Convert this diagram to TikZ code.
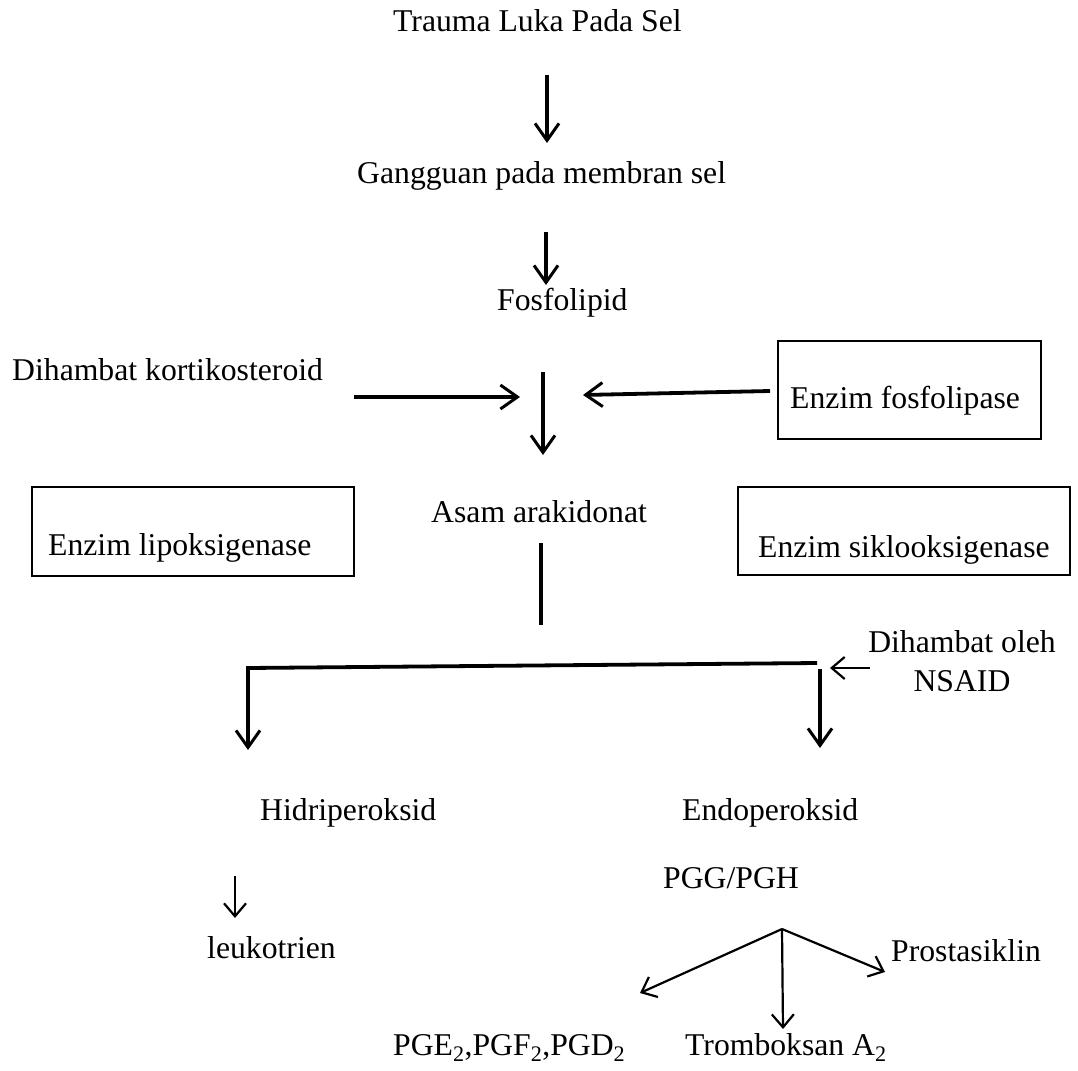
\documentclass[tikz,border=0pt]{standalone}
\usepackage{fontspec}
\setmainfont{Liberation Serif}
\usetikzlibrary{arrows.meta}
\begin{document}
\begin{tikzpicture}[x=1pt,y=-1pt,
  txt/.style={inner sep=0pt, anchor=base west, font=\fontsize{31.7}{40}\selectfont},
  boxr/.style={draw, line width=1.8pt, anchor=north west, inner sep=0pt},
  thick arrow/.style={line width=3.8pt, -{Straight Barb[length=17pt,width=24pt,line width=3pt]}},
  thin arrow/.style={line width=2.2pt, -{Straight Barb[length=13pt,width=22pt,line width=2.2pt]}},
  thickline/.style={line width=3.8pt}]
\useasboundingbox (0,0) rectangle (1078,1070);
% texts
\node[txt] (trauma) at (393,32) {Trauma Luka Pada Sel};
\node[txt] (gangguan) at (357,183) {Gangguan pada membran sel};
\node[txt] (fosfo) at (497,310) {Fosfolipid};
\node[txt] (kortiko) at (12,380) {Dihambat kortikosteroid};
\node[txt] (efosfo) at (790,408) {Enzim fosfolipase};
\node[txt] (asam) at (431,522) {Asam arakidonat};
\node[txt] (elipo) at (48,555) {Enzim lipoksigenase};
\node[txt] (esiklo) at (758,557) {Enzim siklooksigenase};
\node[txt, anchor=base, align=center, font=\fontsize{31.7}{39}\selectfont] (nsaid) at (962,691) {Dihambat oleh\\NSAID};
\node[txt] (hidri) at (260,820) {Hidriperoksid};
\node[txt] (endo) at (682,820) {Endoperoksid};
\node[txt] (pgg) at (663,888) {PGG/PGH};
\node[txt] (leuko) at (207,958) {leukotrien};
\node[txt] (prosta) at (891,961) {Prostasiklin};
\node[txt] (pge) at (393,1055) {PGE\textsubscript{2},PGF\textsubscript{2},PGD\textsubscript{2}};
\node[txt] (trombo) at (685,1055) {Tromboksan A\textsubscript{2}};
% boxes
\node[boxr, minimum width=263pt, minimum height=98pt] (bfos) at (777,340) {};
\node[boxr, minimum width=322pt, minimum height=89pt] (blipo) at (31,486) {};
\node[boxr, minimum width=332pt, minimum height=88pt] (bsiklo) at (737,486) {};
% coordinates
\coordinate (a1s) at (547,75);  \coordinate (a1e) at (547,143);
\coordinate (a2s) at (546,232); \coordinate (a2e) at (546,285);
\coordinate (a3s) at (354,397); \coordinate (a3e) at (520,397);
\coordinate (a4s) at (543,372); \coordinate (a4e) at (543,455);
\coordinate (a5s) at (770,391); \coordinate (a5e) at (583,395);
\coordinate (l1s) at (541,543); \coordinate (l1e) at (541,625);
\coordinate (br) at (817,663);  \coordinate (bl) at (248,668);
\coordinate (ble) at (248,750);
\coordinate (rs) at (820,669);  \coordinate (re) at (820,748);
\coordinate (ns) at (870,668);  \coordinate (ne) at (830,668);
\coordinate (ks) at (235,876);  \coordinate (ke) at (235,918);
\coordinate (apex) at (782,929);
\coordinate (f1) at (640,993);  \coordinate (f2) at (783,1029); \coordinate (f3) at (885,972);
% connectors
\draw[thick arrow] (a1s) -- (a1e);
\draw[thick arrow] (a2s) -- (a2e);
\draw[thick arrow] (a3s) -- (a3e);
\draw[thick arrow] (a4s) -- (a4e);
\draw[thick arrow] (a5s) -- (a5e);
\draw[thickline] (l1s) -- (l1e);
\draw[thick arrow] (br) -- (bl) -- (ble);
\draw[thick arrow] (rs) -- (re);
\draw[thin arrow] (ns) -- (ne);
\draw[thin arrow] (ks) -- (ke);
\draw[thin arrow] (apex) -- (f1);
\draw[thin arrow] (apex) -- (f2);
\draw[thin arrow] (apex) -- (f3);
\end{tikzpicture}
\end{document}
